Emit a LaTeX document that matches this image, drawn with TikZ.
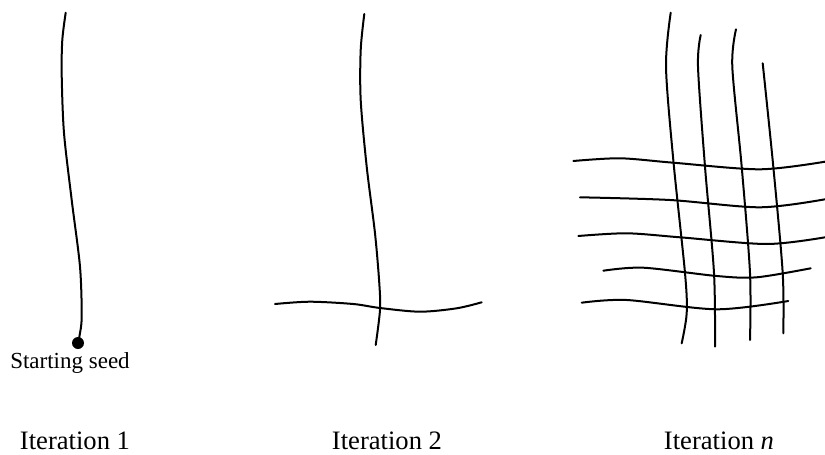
\documentclass[tikz,border=0pt]{standalone}
\usepackage{fontspec}
\setmainfont{Liberation Serif}
\usepackage{tikz}
\usetikzlibrary{positioning}

\begin{document}
\begin{tikzpicture}[
          x=0.5pt, y=-0.5pt,
          strand/.style={line width=1pt, line cap=round},
          lbl/.style={font=\fontsize{13.3}{16}\selectfont, anchor=base, inner sep=0pt},
          seedlbl/.style={font=\fontsize{11.5}{14}\selectfont, anchor=base, inner sep=0pt},
          dot/.style={circle, fill, inner sep=0pt, minimum size=6pt}
        ]
          \useasboundingbox (0,0) rectangle (825,455);

          % iteration 1
          \node[dot] (seed) at (78,343) {};
          \draw[strand] plot[smooth] coordinates {(seed.center) (79.5,336) (81.7,316.7) (80,266.7) (71.7,200) (64,133) (61.7,75) (62.3,40) (65.7,12.7)};
          \node[seedlbl] (seedtxt) at (70,368) {Starting seed};

          % iteration 2
          \draw[strand] plot[smooth] coordinates {(364.3,14) (360.7,50) (360.7,100) (366.7,166.7) (375,233.3) (379.3,283.3) (380,310) (375.7,345)};
          \draw[strand] plot[smooth] coordinates {(275,304) (310,301.7) (353.3,304) (380,308) (420,311.7) (456.7,308.3) (481.7,302.3)};

          % iteration n: vertical strands
          \draw[strand] plot[smooth] coordinates {(670.7,12.7) (666,66.7) (673.3,160) (685,273) (686.7,313) (681.7,343.3)};
          \draw[strand] plot[smooth] coordinates {(700.7,35) (698,66.7) (705,166.7) (714,273) (715,346.7)};
          \draw[strand] plot[smooth] coordinates {(736,29.3) (732.3,66.7) (741.7,166.7) (750,273) (750,340)};
          \draw[strand] plot[smooth] coordinates {(762.7,63.3) (773.3,166.7) (782.7,273) (783.3,333.3)};
          % iteration n: horizontal strands
          \draw[strand] plot[smooth] coordinates {(573.3,161) (620,158.3) (673.3,162.7) (760,169.3) (825,161.7)};
          \draw[strand] plot[smooth] coordinates {(580,197.3) (670,200) (760,207.3) (825,199.3)};
          \draw[strand] plot[smooth] coordinates {(578.3,236) (626.7,233.3) (680,237.3) (766.7,244) (825,237.3)};
          \draw[strand] plot[smooth] coordinates {(603.3,270.7) (643.3,267.7) (716.7,276) (756.7,277.3) (810.7,268.3)};
          \draw[strand] plot[smooth] coordinates {(581.7,302.7) (626.7,300) (716.7,309.3) (788.3,301)};

          % captions
          \node[lbl] (it1) at (75,449) {Iteration 1};
          \node[lbl] (it2) at (387,449) {Iteration 2};
          \node[lbl] (itn) at (719,449) {Iteration \textit{n}};
        \end{tikzpicture}
\end{document}
